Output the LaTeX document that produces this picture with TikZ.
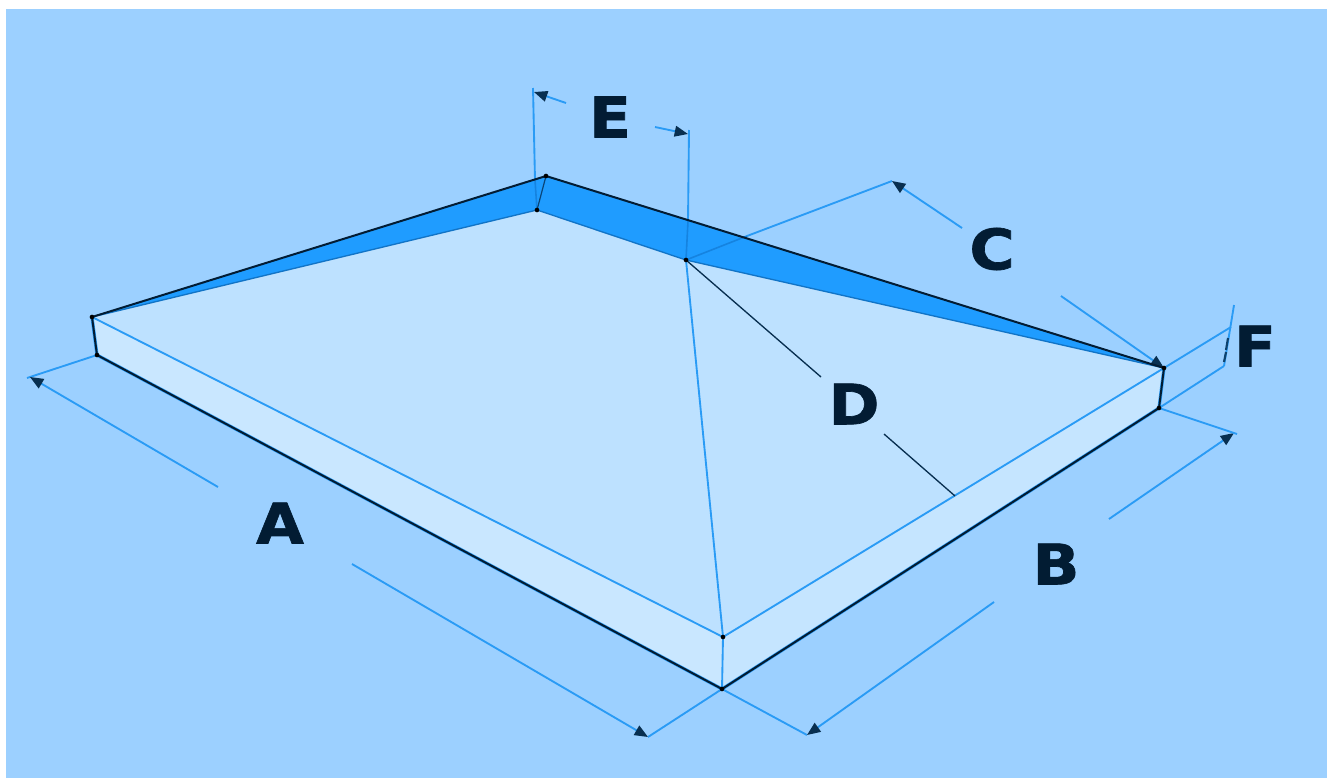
\documentclass[tikz,border=0pt]{standalone}
\usepackage{fontspec}
\setmainfont{DejaVu Sans}
\newfontfamily\letterfont[FakeStretch=1.1,FakeBold=1.2]{DejaVu Sans}
\usetikzlibrary{arrows.meta}
\definecolor{skyc}{HTML}{9CD0FF}
\definecolor{topc}{HTML}{BDE1FF}
\definecolor{sidec}{HTML}{C9E7FF}
\definecolor{slopec}{HTML}{1F9CFF}
\definecolor{linec}{HTML}{2A9BF5}
\definecolor{overc}{HTML}{1583E0}
\definecolor{inkc}{HTML}{021C33}
\begin{document}
\begin{tikzpicture}[x=0.75pt,y=-0.75pt]
    % --- DEFINE STYLES ---
    % Style for dimension lines
    \tikzstyle{dimline} = [linec, line width=1.4pt]
    % Style for dimension lines with a tip
    \tikzstyle{dimtip} = [dimline, -{Stealth[inset=0pt,length=10pt,width=8pt,color=inkc!85!linec]}]
    % Style for lines crossing the dark slope
    \tikzstyle{overline} = [overc, line width=1.2pt]
    % Style for the heavy outline
    \tikzstyle{edgeline} = [inkc, line width=1.5pt]
    % Style for the letters
    \tikzstyle{letter} = [inkc, font=\letterfont\fontsize{42}{42}\selectfont\bfseries, inner sep=0pt]
    % Style for the corner dots
    \tikzstyle{cornerdot} = [circle, fill=black, inner sep=0pt, minimum size=3.5pt]

    \useasboundingbox (0,0) rectangle (1327,778);
    \fill[white] (0,0) rectangle (1327,778);
    \fill[skyc] (6,9) rectangle (1327,778);

    % --- CORNERS OF THE SLAB ---
    \coordinate (leftT) at (92,317);
    \coordinate (leftB) at (97,355);
    \coordinate (backO) at (546,176);
    \coordinate (backI) at (537,210);
    \coordinate (ridge) at (686,260);
    \coordinate (frontT) at (723,637);
    \coordinate (frontB) at (722,689);
    \coordinate (rightT) at (1164,368);
    \coordinate (rightB) at (1159,408);
    \coordinate (dFoot) at (955,496);

    % Faces
    \fill[topc] (leftT) -- (backI) -- (ridge) -- (rightT) -- (frontT) -- cycle;
    \fill[sidec] (leftT) -- (frontT) -- (frontB) -- (leftB) -- cycle;
    \fill[sidec!70!topc] (frontT) -- (rightT) -- (rightB) -- (frontB) -- cycle;
    \fill[slopec] (leftT) -- (backO) -- (rightT) -- (ridge) -- (backI) -- cycle;

    % --- FREE ENDS OF THE DIMENSION LINES ---
    \coordinate (aExtL) at (27,378);
    \coordinate (aTipL) at (30,377);
    \coordinate (aEndL) at (218,487);
    \coordinate (aEndR) at (352,564);
    \coordinate (aTipR) at (648,737);
    \coordinate (bTipL) at (807,735);
    \coordinate (bEndL) at (994,602);
    \coordinate (bEndR) at (1109,519);
    \coordinate (bTipR) at (1234,433);
    \coordinate (bExtR) at (1237,434);
    \coordinate (cTipL) at (892,181);
    \coordinate (cEndL) at (962,228);
    \coordinate (cEndR) at (1061,296);
    \coordinate (eTop) at (533,88);
    \coordinate (eTipL) at (534,92);
    \coordinate (eEndL) at (566,103);
    \coordinate (eEndR) at (655,127);
    \coordinate (eTipR) at (688,134);
    \coordinate (eTopR) at (689,130);
    \coordinate (fTop) at (1234,305);
    \coordinate (fExtT) at (1231,327);
    \coordinate (fExtB) at (1224,366);
    \coordinate (dEndT) at (821,377);
    \coordinate (dEndB) at (884,434);
    % where the lines leave the dark slope
    \coordinate (eCross) at (688,221);
    \coordinate (cCross) at (747,236);
    \coordinate (eCrossL) at (535,180);

    % Letters
    \foreach \name/\x/\y in {A/280/523, B/1056/564, C/992/249, D/854/404, E/610/117, F/1255/346} {
        \node[letter] (lab\name) at (\x,\y) {\name};
    }

    % Lines on the slab
    \draw[dimline] (leftT) -- (frontT) -- (rightT);
    \draw[dimline] (frontT) -- (ridge);
    \draw[dimline] (frontT) -- (frontB);
    \draw[dimline] (eCrossL) -- (eTop);
    \draw[dimline] (eCross) -- (eTopR);
    \draw[dimline] (cCross) -- (cTipL);
    \draw[overline] (backI) -- (eCrossL);
    \draw[overline] (ridge) -- (eCross);
    \draw[overline] (ridge) -- (cCross);
    \draw[inkc!60!overc, line width=0.9pt] (backI) -- (backO);
    \draw[overc!85!inkc, line width=1pt] (backI) -- (ridge) -- (rightT);
    \draw[overc!85!inkc, line width=1pt] (backI) -- (leftT);

    % D
    \draw[inkc!85!linec, line width=1pt] (ridge) -- (dEndT);
    \draw[inkc!85!linec, line width=1pt] (dEndB) -- (dFoot);

    % Dimension lines
    \draw[dimline] (leftB) -- (aExtL);
    \draw[dimtip] (aEndL) -- (aTipL);
    \draw[dimtip] (aEndR) -- (aTipR);
    \draw[dimline] (frontB) -- (aTipR);
    \draw[dimline] (frontB) -- (bTipL);
    \draw[dimtip] (bEndL) -- (bTipL);
    \draw[dimtip] (bEndR) -- (bTipR);
    \draw[dimline] (rightB) -- (bExtR);
    \draw[dimtip] (cEndL) -- (cTipL);
    \draw[dimtip] (cEndR) -- (rightT);
    \draw[dimtip] (eEndL) -- (eTipL);
    \draw[dimtip] (eEndR) -- (eTipR);
    \draw[dimline] (rightT) -- (fExtT);
    \draw[dimline] (rightB) -- (fExtB);
    \draw[dimline] (fTop) -- (fExtB);
    \draw[inkc!70!linec, line width=1.6pt] (1228,338) -- (1226,350);
    \draw[inkc!70!linec, line width=1.6pt] (1226,352) -- (1224,362);

    % Heavy outline
    \draw[linec, line width=2.4pt] (leftT) -- (leftB) -- (frontB) -- (rightB) -- (rightT);
    \draw[edgeline] (leftT) -- (backO) -- (rightT);
    \draw[edgeline] (leftT) -- (leftB) -- (frontB) -- (rightB) -- (rightT);

    % Corner dots
    \foreach \pt in {leftT, leftB, backO, backI, ridge, frontT, frontB, rightT, rightB} {
        \node[cornerdot] (dot\pt) at (\pt) {};
    }
\end{tikzpicture}
\end{document}
